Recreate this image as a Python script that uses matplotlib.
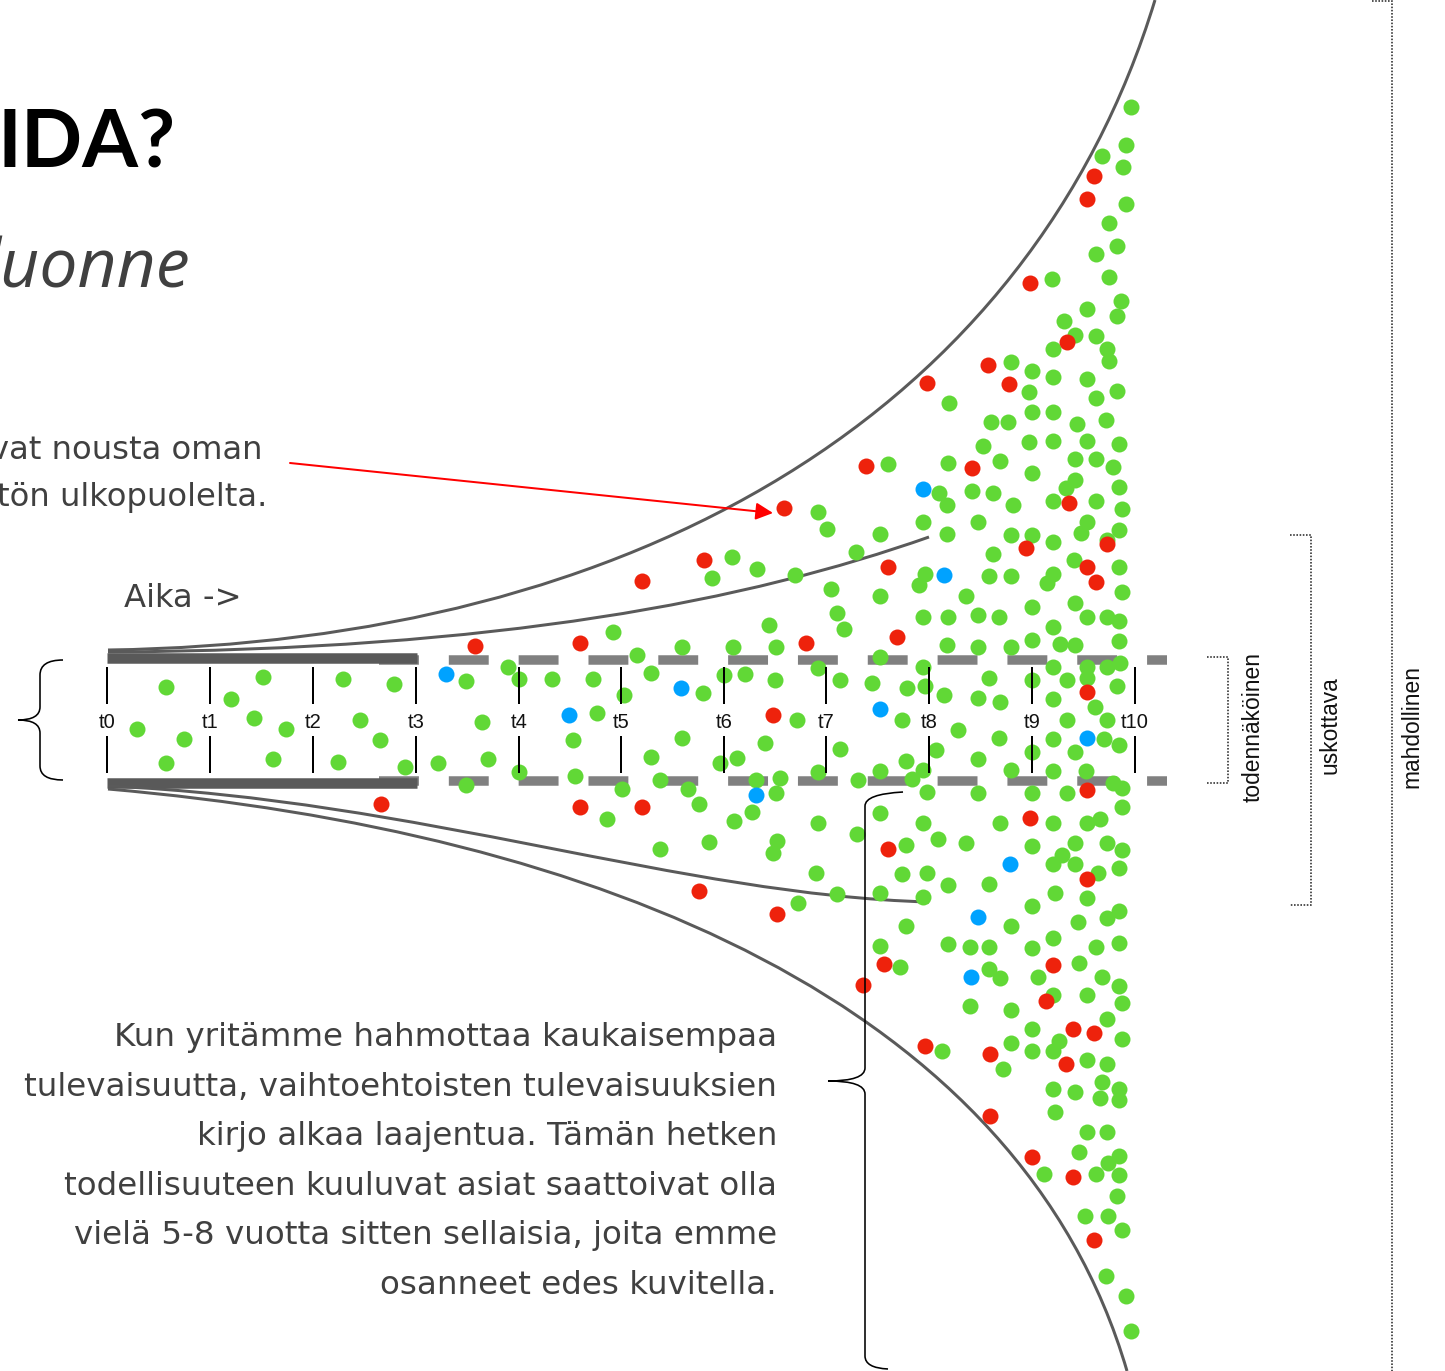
import numpy as np
import matplotlib.pyplot as plt
from matplotlib.path import Path
from matplotlib.patches import PathPatch

# canvas in pixels of the original slide
W, H = 1445, 1371
PT = 72 / 100  # px -> pt at dpi 100

# time ticks along the tube
tick_labels = ['t0', 't1', 't2', 't3', 't4', 't5', 't6', 't7', 't8', 't9', 't10']
tick_x = [107, 210, 313, 416, 519, 621, 724, 826, 929, 1032, 1135]

# future "events" (x, y positions)
green_pts = [
    (166, 687), (137, 729), (184, 739), (166, 763), (263, 677), (231, 699), (254, 718), (286, 729),
    (273, 759), (343, 679), (394, 684), (360, 720), (380, 740), (338, 762), (405, 767), (438, 763),
    (466, 681), (466, 785), (482, 722), (508, 667), (519, 679), (552, 679), (488, 759), (519, 772),
    (818, 512), (827, 529), (732, 557), (712, 578), (757, 569), (795, 575), (856, 552), (831, 589),
    (837, 613), (844, 629), (769, 625), (613, 632), (637, 655), (682, 647), (733, 647), (776, 647),
    (818, 668), (840, 680), (593, 679), (651, 673), (703, 693), (724, 675), (745, 674), (775, 680),
    (624, 695), (597, 713), (797, 720), (573, 740), (682, 738), (765, 743), (840, 749), (651, 757),
    (720, 763), (737, 758), (575, 776), (660, 780), (688, 789), (622, 789), (780, 778), (756, 780),
    (776, 793), (818, 772), (858, 780), (699, 804), (607, 819), (752, 812), (734, 821), (818, 823),
    (857, 834), (709, 842), (660, 849), (777, 841), (773, 853), (816, 873), (837, 894), (798, 903),
    (1131, 107), (1126, 145), (1102, 156), (1123, 167), (1126, 204), (1109, 223), (1117, 246),
    (1096, 254), (1109, 277), (1052, 279), (1121, 301), (1087, 309), (1117, 316), (1064, 321),
    (1075, 335), (1096, 336), (1107, 349), (1109, 361), (1053, 349), (1011, 362), (1032, 371),
    (1053, 377), (1087, 379), (1096, 398), (1117, 391), (1029, 392), (949, 403), (1032, 412),
    (1053, 412), (991, 422), (1008, 422), (1077, 424), (1106, 420), (1029, 442), (1053, 441),
    (1087, 441), (1119, 444), (983, 446), (1075, 459), (1096, 459), (1113, 467), (888, 464),
    (948, 463), (1000, 461), (1032, 473), (1075, 480), (1066, 488), (1119, 487), (939, 493),
    (947, 505), (972, 491), (993, 493), (1013, 505), (1053, 501), (1096, 501), (1122, 509),
    (923, 522), (978, 522), (1087, 522), (1081, 533), (1119, 530), (880, 534), (947, 534),
    (1011, 535), (1032, 535), (1053, 542), (1107, 540), (993, 554), (1074, 560),
    (1119, 567), (925, 574), (919, 585), (989, 576), (1011, 576), (1053, 574), (1047, 583),
    (880, 596), (966, 596), (1122, 592), (1032, 607), (1075, 603), (923, 617), (948, 617),
    (978, 615), (999, 617), (1087, 617), (1107, 617), (1119, 621), (1053, 627), (1032, 640),
    (1060, 644), (1075, 645), (1119, 641), (947, 645), (978, 647), (1011, 647), (880, 657),
    (923, 667), (1053, 667), (1087, 667), (1107, 667), (1120, 663), (872, 683), (907, 688),
    (925, 686), (944, 695), (978, 698), (989, 678), (1000, 702), (1032, 680), (1053, 699),
    (1067, 680), (1087, 678), (1117, 686), (1095, 707), (902, 720), (958, 730), (999, 738),
    (1053, 739), (1067, 720), (1107, 720), (1104, 739), (1119, 745), (936, 750), (978, 759),
    (1032, 752), (1075, 752), (906, 761), (880, 771), (923, 770), (912, 779), (1011, 770),
    (1053, 771), (1086, 771), (1113, 783), (1122, 788), (927, 792), (978, 793), (1032, 793),
    (1067, 793), (1122, 807), (880, 813), (923, 823), (1000, 823), (1053, 823), (1087, 823),
    (1100, 819), (906, 845), (938, 839), (966, 843), (1032, 846), (1075, 843), (1107, 843),
    (1122, 850), (1062, 855), (1053, 864), (1075, 864), (1098, 873), (1119, 868), (902, 874),
    (927, 873), (948, 885), (989, 884), (880, 893), (923, 897), (1055, 893), (1087, 898),
    (1032, 906), (1119, 911), (1107, 918), (906, 926), (1011, 926), (1078, 922), (880, 946),
    (948, 944), (970, 947), (989, 947), (1032, 948), (1053, 938), (1096, 947), (1119, 943),
    (900, 967), (989, 969), (1000, 978), (1079, 963), (1038, 977), (1102, 977), (1119, 986),
    (1053, 995), (1087, 995),
    (970, 1006), (1011, 1010), (1122, 1003), (1107, 1019), (1032, 1029), (1122, 1039),
    (1011, 1043), (942, 1051), (1032, 1051), (1053, 1051), (1059, 1041), (1087, 1060),
    (1107, 1064), (1003, 1069), (1053, 1089), (1075, 1092), (1102, 1082), (1119, 1089),
    (1100, 1098), (1119, 1100), (1055, 1112), (1087, 1132), (1107, 1132), (1079, 1152),
    (1119, 1156), (1108, 1163), (1044, 1174), (1096, 1174), (1119, 1175), (1117, 1196),
    (1085, 1216), (1108, 1216), (1122, 1230), (1106, 1276), (1126, 1296), (1131, 1331),
]
red_pts = [
    (1094, 176), (1087, 199), (1030, 283), (1067, 342), (988, 365), (1009, 384), (927, 383),
    (866, 466), (972, 468), (1069, 503), (784, 508), (1107, 544), (1026, 548), (704, 560),
    (888, 567), (1087, 567), (1096, 582), (642, 581), (897, 637), (475, 646), (580, 643),
    (806, 643), (773, 715), (1087, 692), (381, 804), (580, 807), (642, 807), (1087, 790),
    (1030, 818), (888, 849), (1087, 879), (699, 891), (777, 914), (884, 964), (1053, 965),
    (863, 985), (1046, 1001), (1073, 1029), (1094, 1033), (925, 1046), (990, 1054),
    (1066, 1064), (990, 1116), (1032, 1157), (1073, 1177), (1094, 1240),
]
blue_pts = [
    (923, 489), (944, 575), (446, 674), (681, 688), (569, 715), (880, 709), (1087, 738),
    (756, 795), (1010, 864), (978, 917), (971, 977),
]

para_lines = [
    'Kun yritämme hahmottaa kaukaisempaa',
    'tulevaisuutta, vaihtoehtoisten tulevaisuuksien',
    'kirjo alkaa laajentua. Tämän hetken',
    'todellisuuteen kuuluvat asiat saattoivat olla',
    'vielä 5-8 vuotta sitten sellaisia, joita emme',
    'osanneet edes kuvitella.',
]

GREEN, RED, BLUE = '#61D836', '#EE220C', '#00A2FF'
CURVE = '#5a5a5a'
TXT = '#404040'

fig = plt.figure(figsize=(W / 100, H / 100), dpi=100)
ax = fig.add_axes([0, 0, 1, 1])
ax.set_xlim(0, W)
ax.set_ylim(H, 0)
ax.axis('off')

# tube: solid part up to t3, dashed beyond
for y in (658, 782.5):
    ax.plot([107, 417], [y, y], color='#595959', lw=10.5 * PT, solid_capstyle='butt', zorder=2)
for y in (659.5, 780.5):
    ax.plot([379, 1167], [y, y], color='#808080', lw=9.5 * PT, linestyle=(0, (4.2, 3.15)),
            dash_capstyle='butt', zorder=1)

# funnel curves (cubic bezier)
def bez(p0, p1, p2, p3, z=2):
    path = Path([p0, p1, p2, p3], [Path.MOVETO, Path.CURVE4, Path.CURVE4, Path.CURVE4])
    ax.add_patch(PathPatch(path, fc='none', ec=CURVE, lw=3 * PT, zorder=z))

bez((108, 650), (640, 642), (1030, 410), (1155, 0))
bez((108, 652), (500, 650), (750, 600), (929, 537))
bez((108, 786), (420, 800), (680, 895), (929, 902))
bez((108, 789), (600, 832), (1020, 1005), (1127, 1371))

# dots
for pts, col in ((green_pts, GREEN), (red_pts, RED), (blue_pts, BLUE)):
    xs, ys = zip(*pts)
    ax.scatter(xs, ys, s=(16 * PT) ** 2, c=col, linewidths=0, zorder=3)

# ticks and labels
for x, lab in zip(tick_x, tick_labels):
    ax.plot([x, x], [668, 703], color='black', lw=2 * PT, zorder=4)
    ax.plot([x, x], [737, 772], color='black', lw=2 * PT, zorder=4)
    ax.text(x, 728, lab, ha='center', va='baseline', fontsize=14.5,
            family='Liberation Sans', color='#111111', zorder=4)

# braces
def brace(verts, codes):
    ax.add_patch(PathPatch(Path(verts, codes), fc='none', ec='black', lw=1.6 * PT, zorder=5))

M, L, C = Path.MOVETO, Path.LINETO, Path.CURVE3
brace([(63, 660), (40, 660), (40, 675), (40, 707), (40, 720), (18, 720),
       (40, 720), (40, 733), (40, 766), (40, 780), (63, 780)],
      [M, C, C, L, C, C, C, C, L, C, C])
brace([(903, 792), (865, 794), (865, 806), (865, 1068), (865, 1081), (828, 1081),
       (865, 1081), (865, 1094), (865, 1356), (865, 1368), (888, 1369)],
      [M, C, C, L, C, C, C, C, L, C, C])

# dotted range brackets
dot_kw = dict(color='#555555', lw=2 * PT, linestyle=(0, (0.8, 0.8)), zorder=4)
ax.plot([1207, 1228, 1228, 1207], [657, 657, 783, 783], **dot_kw)
ax.plot([1290, 1311, 1311, 1290], [535, 535, 905, 905], **dot_kw)
ax.plot([1372, 1392, 1392], [1, 1, 1371], **dot_kw)

rot_kw = dict(rotation=90, ha='center', va='center', fontsize=16.4,
              family='Liberation Sans', color='#111111')
ax.text(1253, 727, 'todennäköinen', **rot_kw)
ax.text(1330, 725, 'uskottava', **rot_kw)
ax.text(1412, 726, 'mahdollinen', **rot_kw)

# red arrow
ax.annotate('', xy=(773, 513), xytext=(290, 463),
            arrowprops=dict(arrowstyle='-|>', color='#FF0000', lw=2 * PT,
                            mutation_scale=26, shrinkA=0, shrinkB=0), zorder=5)

# texts
ax.text(176, 168, 'IDA?', ha='right', va='baseline', fontsize=58,
        family='Lato', weight='bold', color='black')
ax.text(190, 287, 'luonne', ha='right', va='baseline', fontsize=49,
        family='Open Sans', style='italic', color=TXT)
ax.text(262, 459, 'vat nousta oman', ha='right', va='baseline', fontsize=23.2,
        family='DejaVu Sans', color=TXT)
ax.text(267, 506, 'tön ulkopuolelta.', ha='right', va='baseline', fontsize=23.2,
        family='DejaVu Sans', color=TXT)
ax.text(124, 607, 'Aika ->', ha='left', va='baseline', fontsize=23.2,
        family='DejaVu Sans', color=TXT)
for i, line in enumerate(para_lines):
    ax.text(777, 1046 + i * 49.6, line, ha='right', va='baseline', fontsize=23.4,
            family='DejaVu Sans', color=TXT)

fig.savefig('out.png', dpi=100)
